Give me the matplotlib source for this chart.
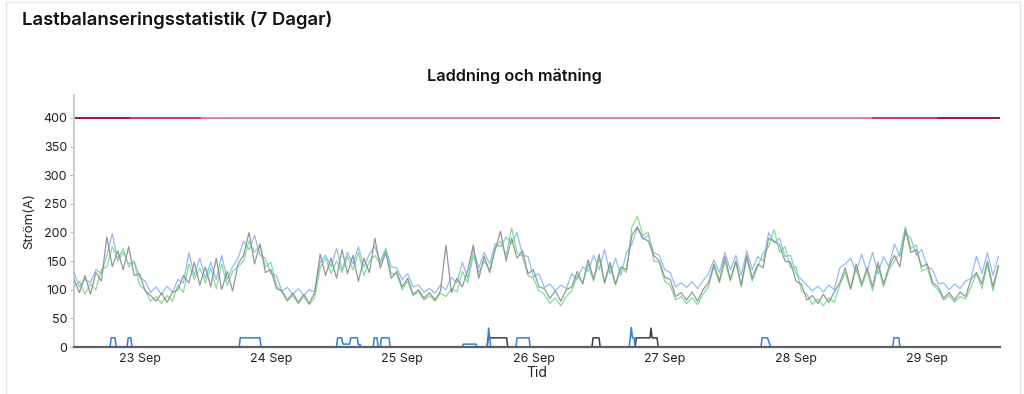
"""
plot.py - load balancing statistics (7 days): phase currents, charger currents, fuse limit.
"""

import matplotlib
matplotlib.use("Agg")
import matplotlib.pyplot as plt
import matplotlib.dates as mdates
from matplotlib.patches import Rectangle
import pandas as pd

plt.rcParams["font.family"] = ["Inter", "DejaVu Sans"]

START = "2024-09-22 12:00"
END_H = 169.3   # hours shown after START

# hourly phase currents (A), h0 = 22 Sep 12:00
L1 = [130, 105, 118, 112, 135, 128, 160, 198, 150, 165, 145, 150, 122,
      115, 95, 105, 92, 106, 96, 118, 112, 165, 125, 155, 120, 148, 118, 160, 118, 140, 155,
      185, 170, 195, 160, 155, 128, 125, 98, 104, 92, 102, 90, 100, 96,
      148, 160, 140, 172, 135, 165, 145, 175, 140, 162, 175, 150, 172, 140, 138, 118,
      128, 105, 108, 96, 102, 94, 108, 100, 122, 112, 148, 120, 170, 138, 165, 145, 180, 175,
      192, 180, 200, 160, 158, 122, 128, 104, 110, 98, 108, 102,
      128, 118, 140, 132, 160, 135, 170, 128, 155, 125, 165, 180, 208, 188, 195, 165, 160, 135,
      130, 105, 112, 104, 114, 102, 116, 128, 152, 130, 165, 135, 160, 125, 168, 135, 158, 150,
      200, 182, 190, 158, 160, 128, 118, 108, 98, 106, 96, 108, 100, 138, 145, 155, 130, 162,
      132, 165, 128, 158, 140, 180, 158, 198, 190, 160, 170, 140, 135, 110, 112, 100, 110, 102,
      115, 120, 158, 128, 165, 125, 158]
L2 = [105, 115, 92, 110, 100, 135, 140, 175, 155, 172, 140, 148, 108,
      100, 80, 88, 76, 90, 80, 108, 95, 145, 118, 138, 112, 138, 102, 145, 108, 132, 140,
      150, 185, 165, 178, 140, 148, 108, 96, 80, 90, 76, 88, 74, 86,
      138, 155, 128, 150, 130, 158, 135, 165, 125, 150, 160, 145, 170, 128, 128, 100,
      115, 90, 96, 82, 90, 80, 94, 88, 102, 96, 132, 112, 160, 130, 150, 135, 172, 185,
      160, 208, 165, 158, 125, 120, 98, 92, 76, 86, 72, 88,
      98, 125, 112, 145, 115, 155, 112, 142, 108, 138, 130, 210, 228, 195, 200, 150, 148, 115,
      108, 82, 88, 76, 86, 74, 92, 105, 140, 112, 150, 115, 148, 105, 155, 115, 140, 165,
      175, 205, 165, 175, 138, 140, 98, 92, 74, 84, 72, 86, 78, 108, 130, 100, 138, 105,
      132, 98, 142, 105, 135, 150, 165, 210, 172, 178, 132, 138, 108, 100, 82, 90, 78, 88,
      84, 105, 128, 102, 145, 98, 140]
L3 = [118, 95, 125, 92, 130, 115, 192, 140, 168, 135, 175, 125, 128,
      98, 90, 80, 94, 78, 95, 100, 125, 112, 148, 108, 140, 105, 155, 100, 132, 98, 145,
      160, 200, 145, 180, 130, 135, 102, 98, 82, 94, 78, 92, 76, 95,
      162, 125, 155, 120, 170, 128, 160, 115, 155, 130, 190, 138, 165, 120, 132, 105,
      120, 92, 100, 85, 95, 82, 98, 178, 95, 120, 105, 135, 178, 120, 158, 130, 170, 202,
      150, 190, 155, 168, 128, 135, 105, 102, 85, 98, 80, 100,
      105, 132, 110, 152, 118, 162, 112, 148, 110, 140, 135, 195, 210, 190, 185, 160, 150, 122,
      118, 88, 95, 82, 96, 80, 100, 112, 145, 115, 158, 118, 150, 108, 160, 120, 145, 138,
      190, 185, 178, 150, 148, 115, 110, 82, 90, 76, 92, 78, 96, 112, 138, 102, 145, 110,
      138, 105, 148, 110, 140, 160, 140, 205, 165, 170, 140, 145, 112, 105, 85, 95, 82, 96,
      88, 118, 130, 110, 150, 105, 142]

# charger currents (A): corner points, hours after START
CHG1_H = [0, 6.6, 6.8, 7.5, 7.7, 9.7, 9.9, 10.4, 10.6, 30.2, 30.4, 34.0, 34.2,
          48.0, 48.2, 48.9, 49.2, 50.4, 50.6, 51.8, 52.0, 52.3, 52.5, 54.7, 54.9, 55.4, 55.6,
          56.0, 56.2, 57.6, 57.8, 71.0, 71.2, 73.5, 73.7, 75.6, 75.8, 76.0, 76.2,
          80.8, 81.0, 83.2, 83.4, 101.5, 101.7, 101.9, 102.1, 102.4, 102.6,
          125.6, 125.8, 126.8, 127.0, 127.4, 149.7, 149.9, 150.8, 151.0, 169.3]
CHG1_A = [0, 0, 16, 16, 0, 0, 16, 16, 0, 0, 16, 16, 0,
          0, 16, 16, 5, 5, 16, 16, 4, 4, 0, 0, 16, 16, 0,
          0, 16, 16, 0, 0, 5, 5, 0, 0, 33, 16, 0,
          0, 16, 16, 0, 0, 16, 34, 16, 16, 0,
          0, 16, 16, 10, 0, 0, 16, 16, 0, 0]
CHG2_H = [0, 75.5, 75.7, 79.1, 79.3, 94.7, 94.9, 96.0, 96.2,
          102.6, 102.8, 105.3, 105.5, 105.7, 106.6, 106.8, 169.3]
CHG2_A = [0, 0, 16, 16, 0, 0, 16, 16, 0,
          0, 16, 16, 33, 16, 16, 0, 0]

LIMIT = 400
LIMIT_MID = [(0, 23), (146, 169.3)]    # darker overlapping limit segments
LIMIT_DARK = [(0, 10), (158, 169.3)]

DAY_TICKS = ["2024-09-23", "2024-09-24", "2024-09-25", "2024-09-26",
             "2024-09-27", "2024-09-28", "2024-09-29"]


def to_time(hours):
    return pd.Timestamp(START) + pd.to_timedelta(hours, unit="h")


def main():
    assert len(L1) == len(L2) == len(L3) == 170
    assert len(CHG1_H) == len(CHG1_A) and len(CHG2_H) == len(CHG2_A)
    t = pd.date_range(START, periods=len(L1), freq="h")
    t0, t1 = to_time(0), to_time(END_H)

    fig = plt.figure(figsize=(10.24, 3.94), dpi=100)
    fig.patches.append(Rectangle((6 / 1024, -0.05), 1014 / 1024, 1.05 - 2 / 394,
                                 transform=fig.transFigure, fill=False,
                                 edgecolor="#e6e6e6", lw=1.0))
    ax = fig.add_axes([74 / 1024, 47 / 394, 926 / 1024, 252 / 394])

    ax.plot([t0, t1], [LIMIT, LIMIT], color="#e35a72", lw=1.1, zorder=2)
    for s, e in LIMIT_MID:
        ax.plot([to_time(s), to_time(e)], [LIMIT, LIMIT], color="#c72c4c", lw=1.1, zorder=2)
    for s, e in LIMIT_DARK:
        ax.plot([to_time(s), to_time(e)], [LIMIT, LIMIT], color="#9a0f2e", lw=1.1, zorder=2)

    ax.plot(t, L1, color="#85b6f2", lw=0.9, alpha=0.9, zorder=3)
    ax.plot(t, L2, color="#74db8e", lw=0.9, alpha=0.9, zorder=3)
    ax.plot(t, L3, color="#8c8c8c", lw=0.9, alpha=0.9, zorder=4)

    ax.plot(to_time(pd.Series(CHG2_H)), CHG2_A, color="#3a3f47", lw=1.1, zorder=5)
    ax.plot(to_time(pd.Series(CHG1_H)), CHG1_A, color="#2f7fd8", lw=1.1, zorder=6)

    ax.set_xlim(t0, t1)
    ax.set_ylim(0, 440)
    ax.set_yticks(range(0, 401, 50))
    ax.set_xticks(pd.to_datetime(DAY_TICKS))
    ax.xaxis.set_major_formatter(mdates.DateFormatter("%d %b"))
    ax.tick_params(axis="x", length=0, pad=4, labelsize=9, colors="#222222")
    ax.tick_params(axis="y", length=3, width=0.8, color="#bbbbbb", pad=2,
                   labelsize=9, labelcolor="#222222")
    for side in ("top", "right"):
        ax.spines[side].set_visible(False)
    ax.spines["left"].set_color("#c4c4c4")
    ax.spines["left"].set_linewidth(1.2)
    ax.spines["bottom"].set_color("#5b6068")
    ax.spines["bottom"].set_linewidth(1.6)
    ax.spines["bottom"].set_zorder(10)

    ax.set_xlabel("Tid", fontsize=10, color="#222222", labelpad=1)
    ax.set_ylabel("Ström(A)", fontsize=9.5, color="#222222", labelpad=6)

    fig.text(22 / 1024, 1 - 20 / 394, "Lastbalanseringsstatistik (7 Dagar)",
             fontsize=13.3, fontweight="semibold", color="#111111", va="center", ha="left")
    fig.text(514 / 1024, 1 - 76 / 394, "Laddning och mätning",
             fontsize=11.7, fontweight="semibold", color="#111111", va="center", ha="center")

    fig.savefig("out.png", dpi=100)
    plt.close(fig)


if __name__ == "__main__":
    main()
